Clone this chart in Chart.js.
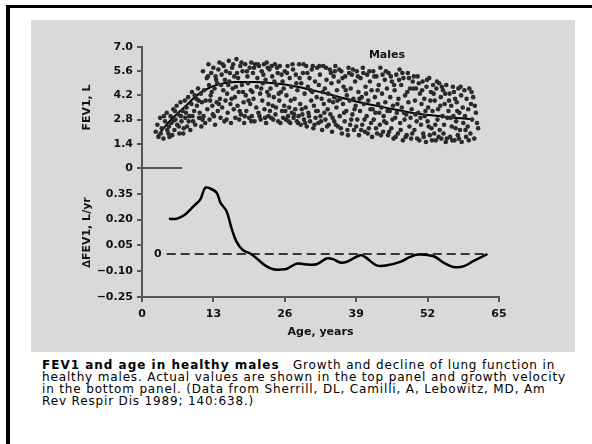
<!DOCTYPE html>
<html>
<head>
<meta charset="utf-8">
<script src="https://cdn.jsdelivr.net/npm/chart.js@4.4.1/dist/chart.umd.min.js"></script>
<style>
  html, body { margin: 0; padding: 0; background: #fff; width: 592px; height: 444px; overflow: hidden; }
  #frame { position: absolute; left: 6px; top: 5px; width: 700px; height: 600px; border-top: 3px solid #000; border-left: 4px solid #000; }
  #panel { position: absolute; left: 31px; top: 20px; width: 544px; height: 332px; background: #d9d9d9; }
  #panel canvas { position: absolute; left: 0; top: 0; }
  #caption { position: absolute; left: 42px; top: 359px; font-family: "DejaVu Sans", sans-serif; font-size: 12px; line-height: 12px; color: #000; letter-spacing: 0.85px; white-space: nowrap; }
  #caption b { letter-spacing: 1px; margin-right: 4px; }
</style>
</head>
<body>
<div id="frame"></div>
<div id="panel"><canvas id="chart" width="544" height="332"></canvas></div>
<div id="caption"><b>FEV1 and age in healthy males</b>&nbsp; Growth and decline of lung function in<br>healthy males. Actual values are shown in the top panel and growth velocity<br>in the bottom panel. (Data from Sherrill, DL, Camilli, A, Lebowitz, MD, Am<br>Rev Respir Dis 1989; 140:638.)</div>
<script>
// axis ticks
const ageTicks = [0, 13, 26, 39, 52, 65];
const fevTicks = [0, 1.4, 2.8, 4.2, 5.6, 7.0];
const velTicks = [-0.25, -0.10, 0.05, 0.20, 0.35];

// top panel: individual FEV1 values [age, litres]
const scatterPoints = [
  [2.5,2.1],[2.8,2.5],[3.0,1.8],[3.3,2.9],[3.6,2.3],[3.9,1.7],[4.2,2.7],[4.5,3.2],[4.8,2.0],[4.9,2.4],
  [5.2,3.0],[5.3,2.6],[5.5,1.9],[5.7,3.4],[5.9,2.2],[6.1,2.8],[6.3,3.6],[6.4,2.5],[6.6,3.1],[6.8,2.0],
  [7.0,3.8],[7.2,2.7],[7.4,3.3],[7.6,2.3],[7.8,3.9],[7.9,2.9],
  [8.1,3.5],[8.2,2.4],[8.4,4.1],[8.6,3.0],[8.8,2.2],[9.0,3.7],[9.1,4.4],[9.3,2.7],[9.5,3.3],[9.7,2.5],
  [9.9,4.0],[10.0,3.6],[10.2,4.6],[10.4,2.9],[10.5,3.2],[10.7,4.3],[10.8,2.4],[10.9,3.8],
  [11.1,5.6],[11.2,3.0],[11.3,4.5],[11.5,2.6],[11.6,3.9],[11.8,5.2],[11.9,3.4],[12.1,6.0],[12.2,4.8],[12.3,2.8],
  [12.5,4.2],[12.6,5.5],[12.8,3.6],[12.9,3.1],[13.0,5.8],[13.2,4.6],[13.3,2.5],[13.5,5.1],[13.6,3.8],[13.7,4.9],
  [13.8,3.3],[13.9,5.7],
  [14.1,6.1],[14.2,4.0],[14.3,2.9],[14.5,5.4],[14.6,3.5],[14.8,4.5],[14.9,5.9],[15.0,2.7],[15.2,3.9],[15.3,5.6],
  [15.5,4.3],[15.6,3.2],[15.8,6.2],[15.9,5.0],[16.1,3.7],[16.2,2.6],[16.4,5.8],[16.5,4.6],[16.7,3.4],[16.8,5.3],
  [16.9,4.1],[17.0,2.9],
  [17.2,6.3],[17.3,5.5],[17.4,3.6],[17.6,4.4],[17.7,2.8],[17.9,5.9],[18.0,3.1],[18.2,4.8],[18.3,5.6],[18.5,3.8],
  [18.6,2.6],[18.8,6.0],[18.9,4.2],[19.0,3.3],[19.2,5.3],[19.3,4.9],[19.5,2.9],[19.6,5.8],[19.7,3.7],[19.8,4.5],
  [19.9,6.1],[20.0,3.0],
  [20.2,5.5],[20.3,4.0],[20.5,2.7],[20.6,6.0],[20.8,3.5],[20.9,4.7],[21.0,5.2],[21.2,3.2],[21.3,5.9],[21.5,4.3],
  [21.6,2.8],[21.8,5.6],[21.9,3.9],[22.0,4.9],[22.2,6.0],[22.3,3.4],[22.5,5.1],[22.6,2.6],[22.8,4.4],[22.9,5.8],
  [23.0,3.7],[23.0,3.0],
  [23.2,5.7],[23.4,4.6],[23.5,2.9],[23.7,5.3],[23.8,3.6],[24.0,4.1],[24.2,6.0],[24.3,3.1],[24.5,4.8],[24.7,5.5],
  [24.8,2.7],[25.0,3.9],[25.1,5.9],[25.3,4.4],[25.5,3.3],[25.6,5.0],[25.7,2.9],[25.8,4.6],[25.9,3.6],[26.0,5.6],
  [26.2,2.8],[26.3,4.2],[26.5,5.9],[26.6,3.0],[26.8,3.5],[26.9,5.2],[27.0,2.6],[27.2,4.7],[27.3,3.2],[27.5,5.7],
  [27.6,2.9],[27.8,4.0],[27.9,3.4],[28.0,5.4],[28.2,2.7],[28.3,4.5],[28.5,3.0],[28.6,6.0],[28.8,3.7],[28.9,2.5],
  [29.0,4.9],[29.2,3.1],
  [29.3,5.5],[29.5,2.8],[29.6,4.3],[29.8,3.5],[29.9,5.9],[30.0,2.4],[30.2,4.7],[30.3,3.2],[30.5,5.2],[30.6,2.7],
  [30.8,3.9],[30.9,5.7],[31.0,4.4],[31.2,2.3],[31.3,3.6],[31.5,5.0],[31.6,2.9],[31.8,4.1],[31.9,5.8],[32.0,3.3],
  [32.1,2.6],[32.2,4.8],
  [32.4,5.4],[32.5,3.0],[32.7,4.0],[32.8,2.2],[33.0,5.9],[33.1,3.7],[33.3,4.6],[33.4,2.8],[33.6,5.1],[33.8,3.4],
  [33.9,4.3],[34.0,2.5],[34.2,5.7],[34.3,3.1],[34.5,4.9],[34.6,2.1],[34.8,3.8],[34.9,5.3],[35.0,4.1],[35.0,2.7],
  [35.2,5.9],[35.4,3.5],[35.5,4.5],[35.7,2.4],[35.8,5.0],[36.0,3.0],[36.1,4.0],[36.3,5.6],[36.4,2.0],[36.6,3.7],
  [36.7,4.7],[36.9,2.7],[37.0,5.3],[37.2,3.3],[37.3,4.2],[37.5,1.9],[37.6,5.8],[37.8,3.9],[37.9,2.5],[38.0,4.6],
  [38.2,5.4],[38.3,3.1],[38.5,4.0],[38.6,2.2],[38.8,5.0],[38.9,3.6],[39.1,5.6],[39.2,2.8],[39.4,4.4],[39.5,1.9],
  [39.7,3.3],[39.8,5.2],[40.0,4.1],[40.1,2.5],[40.3,5.5],[40.4,3.7],[40.6,2.1],[40.7,4.7],[40.9,3.0],[41.0,5.4],
  [41.2,3.9],[41.3,2.3],[41.5,5.0],[41.6,3.4],[41.8,4.5],[41.9,1.8],[42.1,5.6],[42.2,2.8],[42.4,4.1],[42.5,3.2],
  [42.7,5.3],[42.8,2.0],[43.0,3.7],[43.1,4.8],[43.3,2.5],[43.4,5.8],[43.6,3.5],[43.7,4.3],[43.9,2.1],[44.0,3.0],
  [44.2,5.1],[44.3,3.8],[44.5,2.6],[44.6,4.6],[44.8,1.9],[44.9,5.5],[45.1,3.3],[45.2,4.1],[45.4,2.3],[45.5,5.0],
  [45.7,3.6],[45.8,1.7],[46.0,4.5],[46.1,2.9],[46.3,5.4],[46.4,3.2],[46.6,2.0],[46.7,4.0],[46.9,5.7],[47.0,2.6],
  [47.2,4.8],[47.3,3.5],[47.5,1.6],[47.6,5.2],[47.8,2.8],[47.9,4.2],[48.1,3.1],[48.2,1.9],[48.4,5.5],[48.5,3.8],
  [48.7,2.4],[48.8,4.6],[49.0,1.7],[49.1,3.4],[49.3,5.0],[49.4,4.6],[49.6,2.2],[49.7,3.9],[49.9,4.6],[50.0,2.7],
  [50.2,5.3],[50.3,3.2],[50.5,1.6],[50.6,4.3],[50.8,2.5],[50.9,3.7],[51.1,5.0],[51.2,2.0],[51.4,4.0],[51.5,3.0],
  [51.7,1.5],[51.8,4.7],[52.0,2.7],[52.1,3.5],[52.3,5.2],[52.4,1.9],[52.6,4.4],[52.7,2.3],[52.9,3.3],[53.0,4.8],
  [53.2,2.0],[53.3,3.9],[53.5,1.6],[53.6,4.6],[53.8,2.8],[53.9,3.4],[54.1,4.9],[54.2,2.2],[54.4,4.1],[54.5,1.7],
  [54.7,3.0],[54.8,4.5],[55.0,2.5],[55.1,3.7],[55.3,1.5],[55.4,4.8],[55.6,2.9],[55.8,3.3],
  [56.0,4.3],[56.1,1.8],[56.3,3.6],[56.4,2.4],[56.6,4.7],[56.7,3.0],[56.9,1.6],[57.0,4.0],[57.2,2.7],[57.3,3.8],
  [57.5,1.9],[57.6,4.6],[57.8,3.2],[57.9,2.2],[58.1,4.2],[58.2,1.5],[58.4,3.5],[58.5,2.6],
  [58.7,4.5],[58.8,3.0],[59.0,1.8],[59.1,4.0],[59.3,2.4],[59.4,3.4],[59.6,4.6],[59.8,2.0],[59.9,3.7],[60.1,2.8],
  [60.3,4.1],[60.5,1.7],[60.8,3.2],[61.2,2.3],
  // second pass, filling the denser parts of the cloud
  [3.4,2.0],[4.0,3.0],[4.6,2.2],[5.0,1.8],[5.6,2.7],[6.0,3.3],[6.7,2.4],[7.1,3.0],[7.5,2.0],[8.0,3.2],
  [8.5,2.7],[9.2,3.0],[9.6,4.2],[10.3,3.9],[11.0,2.8],
  [12.0,5.3],[12.4,3.9],[12.7,4.4],[13.1,3.0],[13.4,5.3],[14.0,3.7],[14.4,4.8],[14.7,6.0],[15.1,5.1],[15.4,2.8],
  [15.7,4.8],[16.0,5.5],[16.3,4.0],[16.6,6.0],[17.1,4.7],[17.5,5.2],[17.8,3.3],[18.1,6.1],[18.4,4.4],[18.7,3.0],
  [19.1,5.6],[19.4,3.9],[19.9,2.7],[20.1,4.4],[20.4,5.8],
  [21.1,6.0],[21.4,3.0],[21.7,4.6],[22.1,5.4],[22.4,2.9],[22.7,6.1],[23.1,4.2],[23.3,3.3],[23.6,5.9],[23.9,2.8],
  [24.1,5.0],[24.4,3.5],[24.6,5.8],[24.9,4.3],[25.2,2.6],[25.4,5.4],[26.1,3.3],[26.4,5.5],[26.7,2.7],[27.1,3.9],
  [27.4,6.0],[27.7,3.1],[28.1,4.9],[28.4,2.6],[28.7,5.2],[29.1,3.4],[29.4,6.0],[29.7,2.6],[30.1,5.5],[30.4,3.0],
  [30.7,4.5],[31.1,5.9],[31.4,2.5],[31.7,3.3],[32.3,5.9],[32.6,2.7],[32.9,4.4],[33.2,3.2],[33.5,5.8],[33.7,2.4],
  [34.1,3.9],[34.4,5.5],[34.7,2.9],[35.1,5.6],[35.3,2.5],[35.6,3.9],[35.9,5.7],[36.2,2.3],[36.5,5.2],[36.8,3.2],
  [37.1,4.5],[37.4,2.2],[37.7,5.5],[38.1,2.8],[38.4,5.7],[38.7,3.4],[39.0,2.4],[39.3,5.3],[39.6,4.0],[39.9,2.2],
  [40.2,5.8],[40.5,2.8],[40.8,4.3],[41.1,2.0],[41.4,5.6],[41.7,2.6],[42.0,3.4],[42.3,5.3],[42.6,2.3],[42.9,4.5],
  [43.2,3.2],[43.5,1.9],[43.8,5.4],[44.1,2.7],[44.4,5.6],[44.7,3.3],[45.0,2.1],[45.3,5.3],[45.6,2.8],[45.9,4.8],
  [46.2,1.8],[46.5,3.7],[46.8,5.1],[47.1,2.2],[47.4,5.5],[47.7,3.2],[48.0,1.8],[48.3,4.4],[48.6,5.2],[48.9,2.9],
  [49.2,2.0],[49.5,5.3],[49.8,3.1],[50.1,1.7],[50.4,4.9],[50.7,2.9],[51.0,4.5],[51.3,1.8],[51.6,3.3],[51.9,5.1],
  [52.2,2.4],[52.5,3.9],[52.8,1.6],[53.1,4.3],[53.4,2.5],[53.7,5.0],[54.0,1.8],[54.3,3.6],[54.6,4.7],[54.9,2.0],
  [55.2,4.3],[55.5,1.7],[55.9,3.9],[56.2,2.9],[56.5,1.6],[56.8,4.4],[57.1,2.3],[57.4,3.3],[57.7,1.7],[58.0,4.7],
  [58.9,2.2],[59.5,1.6],[60.0,4.4],[60.6,3.6],[61.0,2.6]
];

// top panel: fitted curve
const trendAge = [2.7, 5.0, 8.0, 10.0, 12.0, 14.5, 17.0, 20.0, 24.0, 28.0, 33.0, 39.0, 45.0, 50.0, 55.0, 59.7];
const trendFev = [1.8, 2.7, 3.6, 4.2, 4.6, 4.88, 4.97, 4.97, 4.9, 4.72, 4.35, 3.85, 3.45, 3.15, 2.97, 2.83];

// bottom panel: growth velocity
const velAge = [4.9, 6.3, 7.8, 9.4, 10.6, 11.5, 12.4, 13.6, 14.3, 15.4, 16.3, 17.2, 18.4, 19.7, 20.9, 22.4,
  23.9, 26.0, 27.0, 28.3, 29.5, 31.8, 33.6, 34.8, 36.1, 37.3, 39.7, 40.6, 42.7, 44.6, 47.0, 48.8, 50.3,
  53.1, 54.9, 56.7, 58.5, 60.3, 62.9];
const velValue = [0.205, 0.205, 0.228, 0.278, 0.316, 0.385, 0.381, 0.356, 0.297, 0.248, 0.15, 0.072, 0.022,
  0.003, -0.026, -0.066, -0.089, -0.089, -0.075, -0.055, -0.06, -0.06, -0.026, -0.03, -0.05, -0.045,
  -0.007, -0.017, -0.066, -0.066, -0.046, -0.017, -0.003, -0.013, -0.05, -0.075, -0.072, -0.042, 0.0];

// reference line extents
const zeroLineAge = [4.5, 62.8];
const baseLineAge = [0, 7.3];

const FONT = { family: '"DejaVu Sans", sans-serif', size: 11, weight: 'bold' };
const AXIS = '#555';

Chart.defaults.color = '#111';
Chart.defaults.font = FONT;

const panelLabels = {
  id: 'panelLabels',
  afterDatasetsDraw(chart) {
    const { ctx, scales: { x, y, y2 } } = chart;
    ctx.save();
    ctx.font = 'bold 11px "DejaVu Sans", sans-serif';
    ctx.fillStyle = '#111';
    ctx.textAlign = 'center';
    ctx.textBaseline = 'middle';
    ctx.fillText('Males', x.getPixelForValue(44.6), y.getPixelForValue(6.55));
    ctx.fillText('0', x.getPixelForValue(2.9), y2.getPixelForValue(0));
    ctx.restore();
  }
};

function yAxis(ticks, opts) {
  return Object.assign({
    type: 'linear',
    position: 'left',
    stack: 'panels',
    afterBuildTicks: s => { s.ticks = ticks.map(v => ({ value: v })); },
    afterFit: s => { s.width = 111; },
    grid: { drawOnChartArea: false, tickLength: 5, color: AXIS, lineWidth: 2 },
    border: { color: AXIS, width: 2 }
  }, opts);
}

new Chart(document.getElementById('chart'), {
  type: 'scatter',
  data: {
    datasets: [
      {
        data: scatterPoints.map(([a, f]) => ({ x: a, y: f })),
        yAxisID: 'y',
        pointRadius: 2.3,
        pointBorderWidth: 0,
        pointBackgroundColor: '#2a2a2a'
      },
      {
        data: trendAge.map((a, i) => ({ x: a, y: trendFev[i] })),
        yAxisID: 'y',
        showLine: true,
        borderColor: '#000',
        borderWidth: 2,
        pointRadius: 0,
        cubicInterpolationMode: 'monotone'
      },
      {
        data: baseLineAge.map(a => ({ x: a, y: 0 })),
        yAxisID: 'y',
        showLine: true,
        borderColor: AXIS,
        borderWidth: 2,
        pointRadius: 0,
        clip: false
      },
      {
        data: zeroLineAge.map(a => ({ x: a, y: 0 })),
        yAxisID: 'y2',
        showLine: true,
        borderColor: '#000',
        borderWidth: 1.5,
        borderDash: [9, 5],
        pointRadius: 0
      },
      {
        data: velAge.map((a, i) => ({ x: a, y: velValue[i] })),
        yAxisID: 'y2',
        showLine: true,
        borderColor: '#000',
        borderWidth: 2.5,
        pointRadius: 0,
        tension: 0.35
      }
    ]
  },
  options: {
    responsive: false,
    animation: false,
    devicePixelRatio: 1,
    layout: { padding: { left: 0, right: 76, top: 27, bottom: 0 } },
    plugins: { legend: { display: false }, tooltip: { enabled: false } },
    scales: {
      x: {
        type: 'linear',
        min: 0,
        max: 65,
        afterBuildTicks: s => { s.ticks = ageTicks.map(v => ({ value: v })); },
        afterFit: s => { s.height = 55; },
        grid: { drawOnChartArea: false, tickLength: 5, color: AXIS, lineWidth: 2 },
        border: { color: AXIS, width: 2 },
        ticks: { padding: 6, color: '#111', font: FONT, maxRotation: 0, autoSkip: false },
        title: { display: true, text: 'Age, years', font: FONT, color: '#111', padding: { top: 0, bottom: 13 } }
      },
      y2: yAxis(velTicks, {
        min: -0.25,
        max: 0.5,
        stackWeight: 129,
        ticks: { padding: 4, color: '#111', font: FONT, autoSkip: false, callback: v => (v < 0 ? '\u2212' : '') + Math.abs(v).toFixed(2) },
        title: { display: true, text: '\u2206FEV1, L/yr', font: FONT, color: '#111', padding: { top: 50 } }
      }),
      y: yAxis(fevTicks, {
        min: 0,
        max: 7,
        stackWeight: 121,
        ticks: { padding: 4, color: '#111', font: FONT, autoSkip: false, callback: v => v === 0 ? '0' : v.toFixed(1) },
        title: { display: true, text: 'FEV1, L', font: FONT, color: '#111', padding: { top: 50 } }
      })
    }
  },
  plugins: [panelLabels]
});
</script>
</body>
</html>
